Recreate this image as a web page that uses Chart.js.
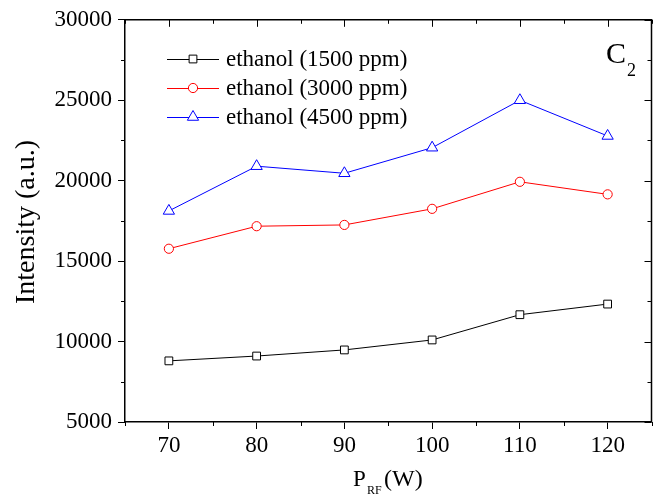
<!DOCTYPE html>
<html>
<head>
<meta charset="utf-8">
<script src="https://cdn.jsdelivr.net/npm/chart.js@4/dist/chart.umd.min.js"></script>
<style>
html,body{margin:0;padding:0;background:#fff;}
#wrap{width:659px;height:498px;}
</style>
</head>
<body>
<div id="wrap"><canvas id="c" width="659" height="498"></canvas></div>
<script>
const power = [70, 80, 90, 100, 110, 120];
const eth1500 = [8800, 9100, 9480, 10100, 11670, 12330];
const eth3000 = [15770, 17170, 17250, 18250, 19930, 19150];
const eth4500 = [18120, 20900, 20460, 22050, 25000, 22780];
const seriesNames = ['ethanol (1500 ppm)', 'ethanol (3000 ppm)', 'ethanol (4500 ppm)'];
const xTicks = [70, 80, 90, 100, 110, 120];
const xMinor = [65, 75, 85, 95, 105, 115, 125];
const yTicks = [5000, 10000, 15000, 20000, 25000, 30000];
const yMinor = [7500, 12500, 17500, 22500, 27500];

const FONT = "'Liberation Serif', 'Times New Roman', serif";

function pts(vals){ return power.map((x,i)=>({x:x, y:vals[i]})); }

function drawMarker(ctx, style, x, y, r, color){
  ctx.save();
  ctx.fillStyle = '#fff';
  ctx.strokeStyle = color;
  ctx.lineWidth = 1;
  ctx.beginPath();
  if(style === 'rect'){
    const s = Math.SQRT1_2 * r;
    ctx.rect(x - s, y - s, 2*s, 2*s);
  } else if(style === 'circle'){
    ctx.arc(x, y, r, 0, Math.PI*2);
  } else {
    ctx.moveTo(x, y - r);
    ctx.lineTo(x + r*Math.cos(Math.PI/6), y + r/2);
    ctx.lineTo(x - r*Math.cos(Math.PI/6), y + r/2);
    ctx.closePath();
  }
  ctx.fill();
  ctx.stroke();
  ctx.restore();
}

const decor = {
  id: 'decor',
  afterDraw(chart){
    const ctx = chart.ctx;
    const a = chart.chartArea;
    const xs = chart.scales.x, ys = chart.scales.y;
    ctx.save();
    ctx.strokeStyle = '#000';
    ctx.lineWidth = 1.5;
    ctx.beginPath();
    ctx.moveTo(a.left, a.top); ctx.lineTo(a.right, a.top); ctx.lineTo(a.right, a.bottom);
    ctx.stroke();
    ctx.lineWidth = 1;
    ctx.beginPath();
    yMinor.forEach(v=>{ const p = Math.round(ys.getPixelForValue(v))+0.5; ctx.moveTo(a.left, p); ctx.lineTo(a.left-4, p); });
    xMinor.forEach(v=>{ const p = Math.round(xs.getPixelForValue(v))+0.5; ctx.moveTo(p, a.bottom); ctx.lineTo(p, a.bottom+4); });
    yTicks.forEach(v=>{ const p = Math.round(ys.getPixelForValue(v))+0.5; ctx.moveTo(a.right, p); ctx.lineTo(a.right-7, p); });
    yMinor.forEach(v=>{ const p = Math.round(ys.getPixelForValue(v))+0.5; ctx.moveTo(a.right, p); ctx.lineTo(a.right-4, p); });
    xTicks.forEach(v=>{ const p = Math.round(xs.getPixelForValue(v))+0.5; ctx.moveTo(p, a.top); ctx.lineTo(p, a.top+7); });
    xMinor.forEach(v=>{ const p = Math.round(xs.getPixelForValue(v))+0.5; ctx.moveTo(p, a.top); ctx.lineTo(p, a.top+4); });
    ctx.stroke();

    // legend
    const rows = [59, 88, 117];
    ctx.font = '23px ' + FONT;
    ctx.textBaseline = 'middle';
    ctx.textAlign = 'left';
    chart.data.datasets.forEach((ds, i)=>{
      const y = rows[i];
      ctx.strokeStyle = ds.borderColor;
      ctx.lineWidth = 1;
      ctx.beginPath(); ctx.moveTo(167, y+0.5); ctx.lineTo(219, y+0.5); ctx.stroke();
      drawMarker(ctx, ds.pointStyle, 193, y, ds.pointRadius, ds.borderColor);
      ctx.fillStyle = '#000';
      ctx.fillText(seriesNames[i], 226, y+1);
    });

    // C2 label
    ctx.fillStyle = '#000';
    ctx.textBaseline = 'alphabetic';
    ctx.font = '30px ' + FONT;
    ctx.fillText('C', 606, 63);
    ctx.font = '18px ' + FONT;
    ctx.fillText('2', 627, 76);

    // x title
    ctx.font = '23px ' + FONT;
    ctx.fillText('P', 353, 486);
    ctx.font = '12px ' + FONT;
    ctx.fillText('RF', 367, 494);
    ctx.font = '24px ' + FONT;
    ctx.fillText('(W)', 384, 486);

    // y title
    ctx.save();
    ctx.translate(34, 222);
    ctx.rotate(-Math.PI/2);
    ctx.textAlign = 'center';
    ctx.font = '28px ' + FONT;
    ctx.fillText('Intensity (a.u.)', 0, 0);
    ctx.restore();
    ctx.restore();
  }
};

new Chart(document.getElementById('c'), {
  type: 'line',
  data: {
    datasets: [
      {label: seriesNames[0], data: pts(eth1500), borderColor: '#000000', pointStyle: 'rect', pointRadius: 5.5, pointBackgroundColor: '#fff', pointBorderColor: '#000', borderWidth: 1, pointBorderWidth: 1, tension: 0},
      {label: seriesNames[1], data: pts(eth3000), borderColor: '#ff0000', pointStyle: 'circle', pointRadius: 4.6, pointBackgroundColor: '#fff', pointBorderColor: '#ff0000', borderWidth: 1, pointBorderWidth: 1, tension: 0},
      {label: seriesNames[2], data: pts(eth4500), borderColor: '#0000ff', pointStyle: 'triangle', pointRadius: 6.5, pointBackgroundColor: '#fff', pointBorderColor: '#0000ff', borderWidth: 1, pointBorderWidth: 1, tension: 0}
    ]
  },
  options: {
    responsive: false,
    animation: false,
    layout: {padding: {top: 18, right: 4, left: 0, bottom: 0}},
    plugins: {legend: {display: false}, tooltip: {enabled: false}},
    scales: {
      x: {
        type: 'linear', min: 65, max: 125,
        afterBuildTicks: s => { s.ticks = xTicks.map(v=>({value:v})); },
        afterFit: s => { s.height = 76; },
        grid: {drawOnChartArea: false, drawTicks: true, tickLength: 7, color: '#000', lineWidth: 1},
        border: {display: true, color: '#000', width: 1.5},
        ticks: {font: {family: FONT, size: 23}, color: '#000', padding: 3, maxRotation: 0}
      },
      y: {
        type: 'linear', min: 5000, max: 30000,
        afterBuildTicks: s => { s.ticks = yTicks.map(v=>({value:v})); },
        afterFit: s => { s.width = 125; },
        grid: {drawOnChartArea: false, drawTicks: true, tickLength: 7, color: '#000', lineWidth: 1},
        border: {display: true, color: '#000', width: 1.5},
        ticks: {font: {family: FONT, size: 23}, color: '#000', padding: 6, callback: v => String(v)}
      }
    }
  },
  plugins: [decor]
});
</script>
</body>
</html>
